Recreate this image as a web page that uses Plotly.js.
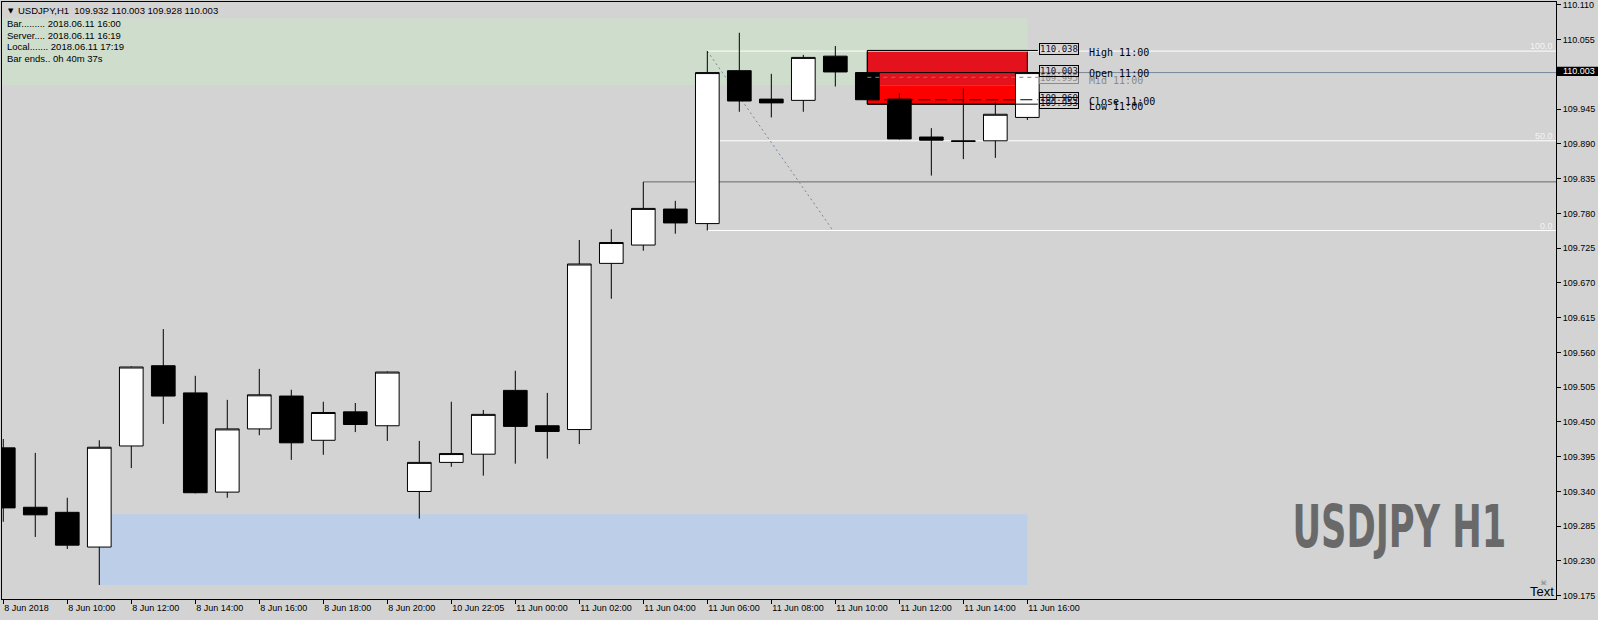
<!DOCTYPE html>
<html><head><meta charset="utf-8">
<script src="https://cdn.plot.ly/plotly-3.0.1.min.js"></script>
<style>html,body{margin:0;padding:0;background:#d3d3d3;}#chart{width:1598px;height:620px;}</style>
</head><body><div id="chart"></div>
<script>
// ---------- data ----------
const barIndex = [0,1,2,3,4,5,6,7,8,9,10,11,12,13,14,15,16,17,18,19,20,21,22,23,24,25,26,27,28,29,30,31,32];
const timeTickIdx = [0,2,4,6,8,10,12,14,16,18,20,22,24,26,28,30,32];
const timeTickLabels = ["8 Jun 2018","8 Jun 10:00","8 Jun 12:00","8 Jun 14:00","8 Jun 16:00","8 Jun 18:00","8 Jun 20:00","10 Jun 22:05","11 Jun 00:00","11 Jun 02:00","11 Jun 04:00","11 Jun 06:00","11 Jun 08:00","11 Jun 10:00","11 Jun 12:00","11 Jun 14:00","11 Jun 16:00"];
const openP  = [109.409,109.315,109.307,109.252,109.412,109.539,109.496,109.339,109.439,109.491,109.421,109.466,109.444,109.340,109.386,109.399,109.500,109.444,109.438,109.701,109.730,109.787,109.764,110.006,109.961,109.959,110.029,110.003,109.961,109.901,109.895,109.895,109.932];
const highP  = [109.423,109.401,109.330,109.421,109.538,109.597,109.523,109.485,109.534,109.501,109.482,109.480,109.530,109.420,109.482,109.469,109.531,109.496,109.738,109.755,109.830,109.800,110.037,110.066,110.001,110.031,110.045,110.038,109.970,109.915,109.978,109.956,110.003];
const lowP   = [109.292,109.268,109.249,109.192,109.377,109.447,109.337,109.330,109.429,109.390,109.398,109.434,109.420,109.297,109.379,109.365,109.384,109.392,109.415,109.645,109.721,109.748,109.753,109.941,109.932,109.941,109.981,109.953,109.897,109.840,109.866,109.868,109.928];
const closeP = [109.314,109.303,109.255,109.410,109.537,109.491,109.338,109.439,109.493,109.417,109.465,109.446,109.529,109.386,109.400,109.462,109.443,109.435,109.700,109.734,109.788,109.765,110.003,109.958,109.955,110.027,110.004,109.960,109.898,109.896,109.894,109.937,110.003];
const priceTicks = [109.175,109.230,109.285,109.340,109.395,109.450,109.505,109.560,109.615,109.670,109.725,109.780,109.835,109.890,109.945,110.055,110.110];
const greenZone = [109.983, 110.089];
const blueZone = [109.192, 109.304];
const currentPrice = 110.003;
const fibLevels = ["100.0","50.0","0.0"];
const infoLines = ["Bar......... 2018.06.11 16:00","Server.... 2018.06.11 16:19","Local....... 2018.06.11 17:19","Bar ends.. 0h 40m 37s"];
const headerText = "USDJPY,H1  109.932 110.003 109.928 110.003";
const refBar = 27;         // 11:00 bar
const lastBar = 32;
const fibBar = 22;
const levelNames = ["High 11:00","Open 11:00","Mid 11:00","Close 11:00","Low 11:00"];

// ---------- geometry helpers ----------
const L = 2, R = 1556, T = 2, B = 599;
const xp = px => (px - L) / (R - L);
const yp = py => (B - py) / (B - T);
const SANS = "Liberation Sans, Arial, sans-serif";
const MONO = "DejaVu Sans Mono, Liberation Mono, monospace";

const hi = highP[refBar], lo = lowP[refBar], op = openP[refBar], cl = closeP[refBar];
const mid = (hi + lo) / 2;
const fHi = highP[fibBar], fLo = lowP[fibBar], fMid = (fHi + fLo) / 2;
const lblEnd = 32.33;

const shapes = [
  {type:'rect', layer:'below', xref:'x', yref:'y', x0:-1, x1:lastBar, y0:greenZone[0], y1:greenZone[1], fillcolor:'#cfddcc', line:{width:0}},
  {type:'rect', layer:'below', xref:'x', yref:'y', x0:3, x1:lastBar, y0:blueZone[0], y1:blueZone[1], fillcolor:'#bccee8', line:{width:0}},
  {type:'rect', layer:'below', xref:'x', yref:'y', x0:refBar, x1:lastBar, y0:greenZone[0], y1:hi, fillcolor:'#e3121c', line:{width:0}},
  {type:'rect', layer:'below', xref:'x', yref:'y', x0:refBar, x1:lastBar, y0:lo, y1:greenZone[0], fillcolor:'#ff0000', line:{width:0}},
  {type:'rect', layer:'below', xref:'x', yref:'y', x0:refBar, x1:lastBar, y0:lo, y1:hi, fillcolor:'rgba(0,0,0,0)', line:{color:'#000', width:1}},
  {type:'line', layer:'below', xref:'paper', yref:'y', x0:0, x1:1, y0:currentPrice, y1:currentPrice, line:{color:'#778899', width:1}},
  {type:'line', layer:'below', xref:'x', yref:'y', x0:20, x1:49, y0:highP[20], y1:highP[20], line:{color:'#696969', width:1}},
  {type:'line', layer:'below', xref:'x', yref:'y', x0:fibBar, x1:49, y0:fHi, y1:fHi, line:{color:'#ffffff', width:1}},
  {type:'line', layer:'below', xref:'x', yref:'y', x0:fibBar, x1:49, y0:fMid, y1:fMid, line:{color:'#ffffff', width:1}},
  {type:'line', layer:'below', xref:'x', yref:'y', x0:fibBar, x1:49, y0:fLo, y1:fLo, line:{color:'#ffffff', width:1}},
  {type:'line', layer:'below', xref:'x', yref:'y', x0:fibBar, x1:25.9, y0:fHi, y1:fLo + 0.002, line:{color:'#778899', width:1, dash:'2px,3px'}},
  {type:'line', layer:'above', xref:'x', yref:'y', x0:refBar, x1:lblEnd, y0:hi, y1:hi, line:{color:'#000', width:1}},
  {type:'line', layer:'above', xref:'x', yref:'y', x0:refBar, x1:lblEnd, y0:op, y1:op, line:{color:'#000', width:1}},
  {type:'line', layer:'above', xref:'x', yref:'y', x0:refBar, x1:lblEnd, y0:mid, y1:mid, line:{color:'#808080', width:1, dash:'4px,4px'}},
  {type:'line', layer:'above', xref:'x', yref:'y', x0:refBar, x1:lblEnd, y0:cl, y1:cl, line:{color:'#000', width:1, dash:'12px,5px'}},
  {type:'line', layer:'above', xref:'x', yref:'y', x0:refBar, x1:lblEnd, y0:lo, y1:lo, line:{color:'#000', width:1}},
  // current price box on axis
  {type:'rect', layer:'above', xref:'paper', yref:'paper', x0:xp(1557), x1:xp(1598), y0:yp(76), y1:yp(66.7), fillcolor:'#000', line:{width:0}}
];

function ann(px, py, text, o) {
  return Object.assign({xref:'paper', yref:'paper', x:xp(px), y:yp(py), text:text, showarrow:false,
    xanchor:'left', yanchor:'middle', font:{family:SANS, size:9.5, color:'#000'}, borderpad:0}, o || {});
}

const annotations = [];
annotations.push(ann(7, 10.5, '▼', {font:{family:'DejaVu Sans', size:7, color:'#000'}}));
annotations.push(ann(17, 10.5, headerText));
const infoY = [23, 35, 47, 59];
infoLines.forEach((t, i) => annotations.push(ann(6, infoY[i], t)));
annotations.push(ann(1399, 527, 'USDJPY H1', {xanchor:'center', font:{family:'Liberation Sans Narrow, DejaVu Sans Condensed, Liberation Sans', size:58, color:'#696969', weight:'bold'}}));
annotations.push(ann(1555, 591, 'Text', {xanchor:'right', font:{family:SANS, size:13, color:'#000'}}));
annotations.push(ann(1543, 582, '☠', {xanchor:'center', font:{family:'DejaVu Sans', size:8, color:'#707070'}}));
// fib level labels
[fHi, fMid, fLo].forEach((v, i) => annotations.push({xref:'paper', yref:'y', x:1, y:v, xanchor:'right', yanchor:'bottom', xshift:-2, yshift:-1,
  text:fibLevels[i], showarrow:false, font:{family:SANS, size:9, color:'#f4f4f4'}, borderpad:0}));
// 11:00 level boxes
const boxY = [49.3, 70.8, 78, 98, 103];
const boxVal = [hi, op, mid, cl, lo];
const boxCol = ['#000', '#000', '#8a8a8a', '#000', '#000'];
const order = [0, 2, 1, 3, 4];
order.forEach(i => annotations.push(ann(1039, boxY[i], boxVal[i].toFixed(3), {font:{family:MONO, size:9, color:boxCol[i] === '#000' ? '#101030' : '#8a8a8a'},
  bordercolor:boxCol[i], borderwidth:1, borderpad:0})));
const nameY = [52.7, 74, 80, 101, 106.7];
order.forEach(i => annotations.push(ann(1088, nameY[i], levelNames[i], {font:{family:MONO, size:10, color:boxCol[i] === '#000' ? '#000' : '#8a8a8a'}})));
// current price text
annotations.push(ann(1562, 71.4, currentPrice.toFixed(3), {font:{family:SANS, size:9, color:'#fff'}}));

const data = [{
  type:'candlestick', x:barIndex, open:openP, high:highP, low:lowP, close:closeP,
  increasing:{line:{color:'#000', width:1}, fillcolor:'#ffffff'},
  decreasing:{line:{color:'#000', width:1}, fillcolor:'#000000'},
  whiskerwidth:0, hoverinfo:'skip', showlegend:false
}];

const layout = {
  width:1598, height:620, margin:{l:L, r:1598 - R, t:T, b:620 - B, pad:0},
  paper_bgcolor:'#d3d3d3', plot_bgcolor:'#d3d3d3', showlegend:false,
  boxgap:0.26, boxgroupgap:0,
  xaxis:{type:'linear', range:[-0.04, 48.52], showgrid:false, zeroline:false, showline:true, linecolor:'#000', linewidth:1, mirror:true,
    ticks:'outside', ticklen:4, tickcolor:'#000', tickvals:timeTickIdx, ticktext:timeTickLabels, ticklabelposition:'outside right',
    tickfont:{family:SANS, size:9, color:'#000'}, rangeslider:{visible:false}, fixedrange:true},
  yaxis:{side:'right', range:[109.1698, 110.1147], showgrid:false, zeroline:false, showline:true, linecolor:'#000', linewidth:1, mirror:true,
    ticks:'outside', ticklen:4, tickcolor:'#000', tickvals:priceTicks, ticktext:priceTicks.map(v => v.toFixed(3)),
    tickfont:{family:SANS, size:9, color:'#000'}, fixedrange:true},
  shapes:shapes, annotations:annotations
};

Plotly.newPlot('chart', data, layout, {staticPlot:true}).then(gd => {
  const t = Array.from(gd.querySelectorAll('text')).find(e => e.textContent === 'USDJPY H1');
  if (!t) return;
  const g = t.closest('g.annotation') || t.parentNode;
  const host = gd.getBoundingClientRect();
  const bb = t.getBoundingClientRect();
  const sx = 214 / bb.width;
  const cx = bb.left - host.left + bb.width / 2;
  const prev = g.getAttribute('transform') || '';
  g.setAttribute('transform', 'translate(' + cx + ',0) scale(' + sx + ',1) translate(' + (-cx) + ',0) ' + prev);
});
</script></body></html>
